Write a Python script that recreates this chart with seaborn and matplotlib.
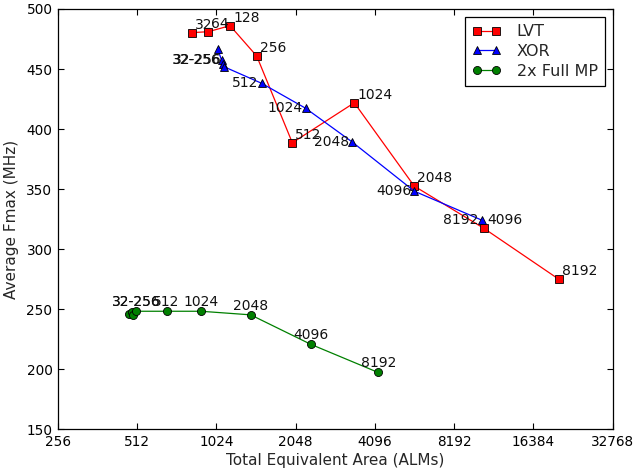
import numpy as np
import pandas as pd
import matplotlib
matplotlib.use("Agg")
from matplotlib import pyplot as plt
from matplotlib import ticker
import seaborn as sns

sns.set_style("ticks")
plt.rcParams['font.family'] = ['DejaVu Sans']

#Data ------------------------------------------------------------------------

depths = ['32', '64', '128', '256', '512', '1024', '2048', '4096', '8192']

lvt_area = [824, 953, 1153, 1456, 1988, 3418, 5776, 10630, 20500]
lvt_fmax = [480.3, 481.1, 486.1, 460.8, 388.6, 421.9, 352.5, 317.3, 274.8]

xor_area = [1035, 1070, 1080, 1089, 1521, 2235, 3359, 5776, 10420]
xor_fmax = [466.7, 457.5, 453.8, 452.1, 438.1, 417.3, 389.2, 348.3, 324.2]

mp_area = [477, 487, 495, 506, 662, 894, 1381, 2335, 4216]
mp_fmax = [246.4, 247.5, 245.0, 248.3, 248.3, 248.3, 245.3, 220.8, 197.3]

xticks = [256, 512, 1024, 2048, 4096, 8192, 16384, 32768]
yticks = [150, 200, 250, 300, 350, 400, 450, 500]

#Plot -------------------------------------------------------------------------

fig = plt.figure(figsize=(6.34, 4.70), dpi=100)
ax = fig.add_axes([58 / 634, 1 - 429.3 / 470, (612.7 - 58) / 634, (429.3 - 9) / 470])

series = [
    ('LVT', lvt_area, lvt_fmax, 's', 'red', 5.8),
    ('XOR', xor_area, xor_fmax, '^', 'blue', 6.3),
    ('2x Full MP', mp_area, mp_fmax, 'o', 'green', 5.8),
]
for name, area, fmax, mk, col, ms in series:
    df = pd.DataFrame({'area': area, 'fmax': fmax})
    sns.lineplot(data=df, x='area', y='fmax', sort=False, estimator=None,
                 color=col, linewidth=0.9, marker=mk, markersize=ms,
                 markeredgecolor='black', markeredgewidth=0.6,
                 label=name, ax=ax)

txt = dict(fontsize=10, textcoords='offset pixels', color='#111111')

# LVT labels up-right of each point
for d, a, f in zip(depths, lvt_area, lvt_fmax):
    ax.annotate(d, (a, f), xytext=(3, 4), ha='left', va='baseline', **txt)

# XOR labels to the left, first four share one label (drawn twice, as overlapping)
for dx in (-1, -0.2):
    ax.annotate('32-256', (xor_area[1], xor_fmax[1]), xytext=(dx, -4),
                ha='right', va='baseline', **txt)
for d, a, f in zip(depths[4:], xor_area[4:], xor_fmax[4:]):
    ax.annotate(d, (a, f), xytext=(-3, -4), ha='right', va='baseline', **txt)

# 2x Full MP labels centred above
for dx in (0, 0.8):
    ax.annotate('32-256', (mp_area[3], mp_fmax[3]), xytext=(dx, 5),
                ha='center', va='baseline', **txt)
for d, a, f in zip(depths[4:], mp_area[4:], mp_fmax[4:]):
    ax.annotate(d, (a, f), xytext=(0, 5), ha='center', va='baseline', **txt)

ax.set_xscale('log', base=2)
ax.set_xlim(256, 32768)
ax.set_ylim(150, 500)
ax.set_xticks(xticks)
ax.set_xticklabels([str(t) for t in xticks])
ax.set_yticks(yticks)
ax.xaxis.set_minor_locator(ticker.NullLocator())

ax.tick_params(direction='in', length=4, width=0.8, top=True, right=True,
               labelsize=9.8, pad=4, colors='black')
for sp in ax.spines.values():
    sp.set_visible(True)
    sp.set_color('black')
    sp.set_linewidth(0.9)

ax.set_xlabel('Total Equivalent Area (ALMs)', fontsize=11, labelpad=3)
ax.set_ylabel('Average Fmax (MHz)', fontsize=11, labelpad=5)

leg = ax.legend(loc='upper right', numpoints=2, fontsize=11.5, fancybox=False,
                framealpha=1, edgecolor='black', handlelength=1.8,
                handletextpad=1.0, labelspacing=0.3, borderaxespad=0.5,
                borderpad=0.45)
leg.get_frame().set_linewidth(0.9)

fig.savefig('out.png', dpi=100)
